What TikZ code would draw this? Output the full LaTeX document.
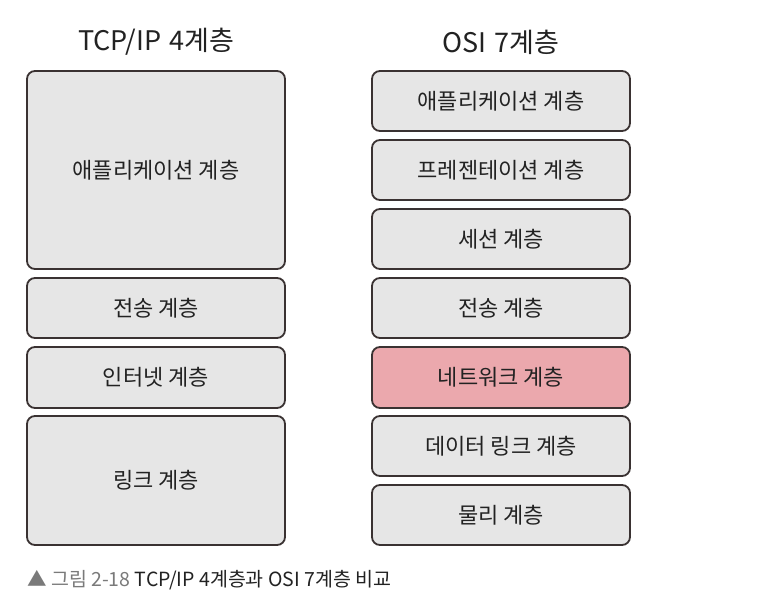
\documentclass[tikz,border=0pt]{standalone}
\usepackage{fontspec}
\setmainfont{Noto Sans CJK KR}
\definecolor{boxgray}{HTML}{E6E6E6}
\definecolor{boxpink}{HTML}{EBA8AD}
\definecolor{linec}{HTML}{3A3232}
\definecolor{textc}{HTML}{222222}
\definecolor{capgray}{HTML}{7A7A7A}
\begin{document}
\begin{tikzpicture}[x=1pt,y=-1pt,
  layer/.style={draw=linec, line width=1.8pt, rounded corners=8pt, fill=boxgray,
    minimum width=258pt, inner sep=0pt, text=textc, font=\fontsize{22}{26}\selectfont},
  title/.style={text=textc, font=\fontsize{27}{31}\selectfont},
  caption/.style={anchor=west, inner sep=0pt, text=textc, font=\fontsize{19.5}{23}\selectfont}]
\useasboundingbox (0,0) rectangle (762,596);
\fill[white] (0,0) rectangle (762,596);
% titles
\node[title] (t4) at (156,42) {TCP/IP\hspace{0.3em}4계층};
\node[title] (t7) at (501,42) {OSI\hspace{0.3em}7계층};
% TCP/IP 4 layers
\node[layer, minimum height=198pt] (a4) at (156,170) {애플리케이션 계층};
\node[layer, minimum height=60pt] (s4) at (156,308) {전송 계층};
\node[layer, minimum height=61pt] (i4) at (156,377.5) {인터넷 계층};
\node[layer, minimum height=129pt] (l4) at (156,480.5) {링크 계층};
% OSI 7 layers
\node[layer, minimum height=60pt] (a7) at (501,101) {애플리케이션 계층};
\node[layer, minimum height=60pt] (p7) at (501,170) {프레젠테이션 계층};
\node[layer, minimum height=60pt] (se7) at (501,239) {세션 계층};
\node[layer, minimum height=60pt] (t7l) at (501,308) {전송 계층};
\node[layer, minimum height=61pt, fill=boxpink] (n7) at (501,377.5) {네트워크 계층};
\node[layer, minimum height=60pt] (d7) at (501,446) {데이터 링크 계층};
\node[layer, minimum height=60pt] (ph7) at (501,515) {물리 계층};
% caption
\node[caption] (cap) at (27,580) {\textcolor{capgray}{▲ 그림 2-18} TCP/IP 4계층과 OSI 7계층 비교};
\end{tikzpicture}
\end{document}
